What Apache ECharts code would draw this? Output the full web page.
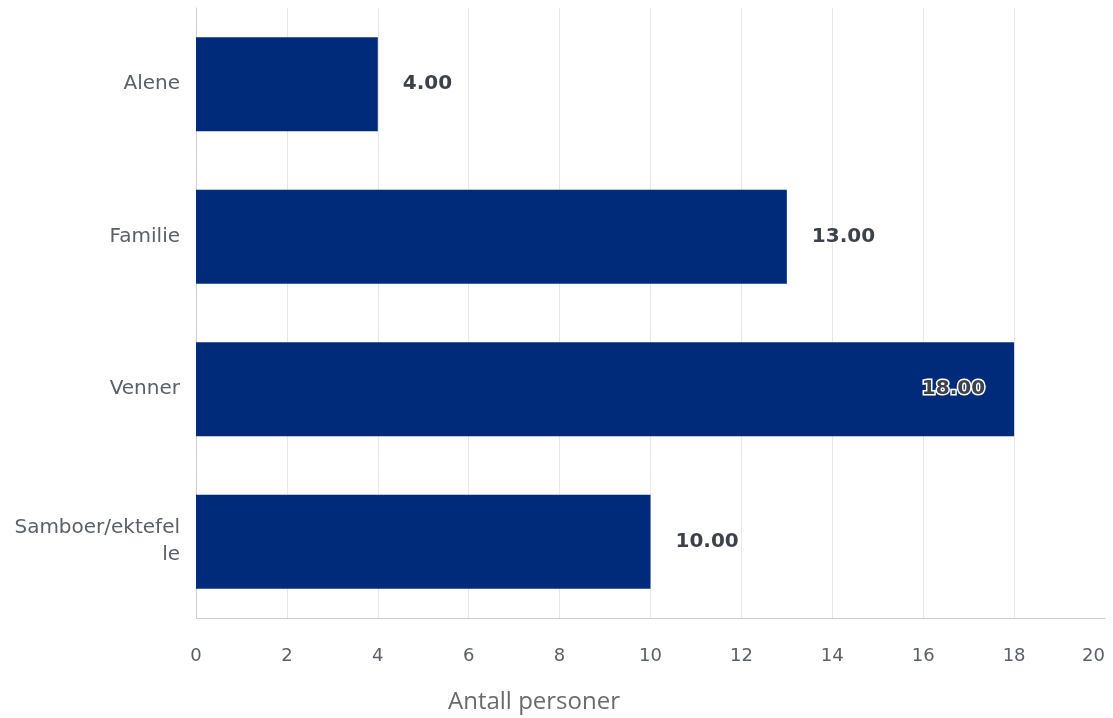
<!DOCTYPE html>
<html>
<head>
<meta charset="utf-8">
<script src="https://cdn.jsdelivr.net/npm/echarts@6/dist/echarts.min.js"></script>
<style>html,body{margin:0;padding:0;background:#fff;}#c{width:1113px;height:718px;}</style>
</head>
<body>
<div id="c"></div>
<script>
const categories = ["Alene", "Familie", "Venner", "Samboer/ektefelle"];
const values = [4, 13, 18, 10];
const xTicks = [0, 2, 4, 6, 8, 10, 12, 14, 16, 18, 20];
const axisTitle = "Antall personer";

const chart = echarts.init(document.getElementById('c'));
const data = values.map(v => {
  const item = { value: v };
  if (v >= 17) {
    item.label = { position: 'insideRight', distance: 29, color: '#3d424a', textBorderColor: '#ffffff', textBorderWidth: 3 };
  }
  return item;
});
chart.setOption({
  animation: false,
  grid: { left: 196, right: 8, top: 8, bottom: 100, containLabel: false, outerBoundsMode: 'none' },
  xAxis: {
    type: 'value', min: xTicks[0], max: xTicks[xTicks.length - 1], interval: 2,
    axisLine: { show: true, lineStyle: { color: '#cfcfcf', width: 1 } },
    axisTick: { show: false },
    splitLine: { show: true, showMaxLine: false, lineStyle: { color: '#e8e8e8' } },
    axisLabel: { margin: 29, color: '#5a6068', fontSize: 18, fontFamily: 'DejaVu Sans', alignMaxLabel: 'right' }
  },
  yAxis: {
    type: 'category', data: categories, inverse: true,
    axisLine: { show: true, lineStyle: { color: '#cfcfcf' } },
    axisTick: { show: false },
    axisLabel: { margin: 16, color: '#5a6068', fontSize: 20, fontFamily: 'DejaVu Sans', width: 168, overflow: 'breakAll', lineHeight: 27 }
  },
  graphic: [{
    type: 'text', left: 448, top: 690,
    style: { text: axisTitle, fill: '#6b6b6b', fontSize: 24, fontFamily: 'Open Sans' }
  }],
  series: [{
    type: 'bar', data: data, barWidth: 94,
    itemStyle: { color: '#002b7a' },
    label: { show: true, position: 'right', distance: 25, formatter: p => p.value.toFixed(2), color: '#3d424a', fontSize: 20, fontWeight: 'bold', fontFamily: 'DejaVu Sans' }
  }]
});
</script>
</body>
</html>
